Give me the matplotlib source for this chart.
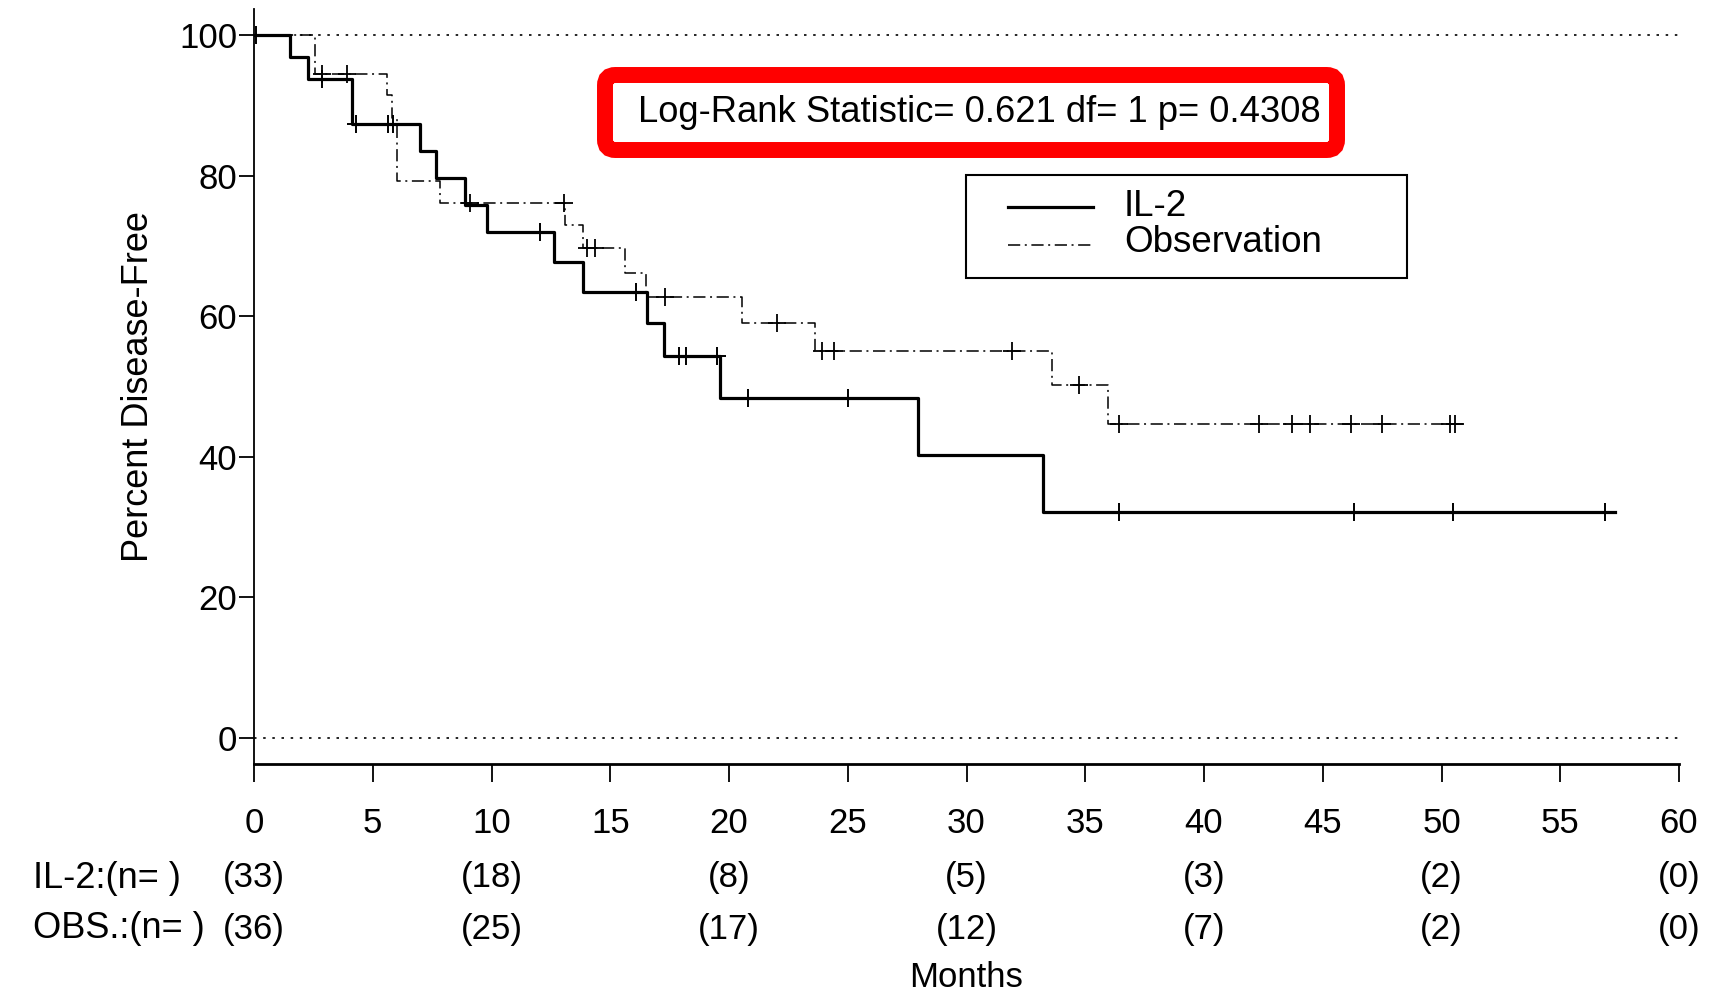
import numpy as np
import matplotlib
matplotlib.use("Agg")
import matplotlib.pyplot as plt
from matplotlib.patches import Rectangle, FancyBboxPatch
from matplotlib.lines import Line2D

plt.rcParams['font.family'] = ['Liberation Sans', 'DejaVu Sans']

# ---------------- data ----------------
il2_times = [0, 1.52, 2.29, 4.11, 7.0, 7.66, 8.88, 9.8, 12.65, 13.85, 16.53, 17.25, 19.6, 27.95, 33.2]
il2_surv = [100, 96.9, 93.8, 87.4, 83.5, 79.6, 75.8, 72.0, 67.7, 63.5, 59.0, 54.4, 48.3, 40.3, 32.2]
il2_end = 57.3
il2_censor = [0.1, 2.85, 4.3, 5.65, 5.85, 12.05, 16.1, 17.9, 18.2, 19.5, 20.8, 25.0, 36.4, 46.3, 50.5, 56.9]

obs_times = [0, 2.57, 5.6, 5.8, 6.02, 7.83, 13.1, 13.86, 15.6, 16.5, 20.55, 23.6, 33.6, 35.95]
obs_surv = [100, 94.4, 91.5, 88.2, 79.2, 76.1, 73.0, 69.7, 66.2, 62.8, 59.1, 55.1, 50.2, 44.6]
obs_end = 50.9
obs_censor = [2.88, 3.93, 9.1, 13.05, 14.0, 14.35, 17.3, 22.0, 23.9, 24.4, 31.9, 34.75,
              36.4, 42.3, 43.7, 44.45, 46.2, 47.5, 50.35, 50.55]

risk_times = [0, 10, 20, 30, 40, 50, 60]
il2_risk = [33, 18, 8, 5, 3, 2, 0]
obs_risk = [36, 25, 17, 12, 7, 2, 0]

x_ticks = list(range(0, 61, 5))
y_ticks = [0, 20, 40, 60, 80, 100]

stat_text = "Log-Rank Statistic= 0.621 df= 1 p= 0.4308"
# --------------------------------------

W, H = 1732, 993
fig = plt.figure(figsize=(W / 100, H / 100), dpi=100)


def fx(x):
    return x / W


def fy(y):
    return 1 - y / H


ax_left, ax_right, ax_top, ax_bot = 254, 1679, 9, 764
ax = fig.add_axes([fx(ax_left), fy(ax_bot), (ax_right - ax_left) / W, (ax_bot - ax_top) / H])

FS = 25


def surv_at(times, surv, t):
    idx = np.searchsorted(np.asarray(times), t, side='right') - 1
    return np.asarray(surv)[idx]


obs_dash = (0, (8, 3, 1.3, 3))

# reference dotted lines
ax.axhline(100, color='black', lw=1.2, ls=(0, (1.5, 4)), zorder=1)
ax.axhline(0, color='black', lw=1.2, ls=(0, (1.5, 4)), zorder=1)

# curves
ax.step(list(il2_times) + [il2_end], list(il2_surv) + [il2_surv[-1]], where='post',
        color='black', lw=2.3, zorder=3)
ax.step(list(obs_times) + [obs_end], list(obs_surv) + [obs_surv[-1]], where='post',
        color='black', lw=1.1, ls=obs_dash, zorder=3)

# censor marks
ax.plot(il2_censor, surv_at(il2_times, il2_surv, il2_censor), ls='none', marker='+',
        ms=13, mew=1.4, color='black', zorder=4)
ax.plot(obs_censor, surv_at(obs_times, obs_surv, obs_censor), ls='none', marker='+',
        ms=13, mew=1.3, color='black', zorder=4)

ax.set_xlim(0, 60)
ax.set_ylim(-3.7, 103.7)
ax.set_xticks(x_ticks)
ax.set_yticks(y_ticks)
ax.tick_params(axis='x', direction='out', length=13, width=1.3, pad=18, labelsize=FS)
ax.tick_params(axis='y', direction='out', length=11, width=1.3, pad=1, labelsize=FS)
for s in ['top', 'right']:
    ax.spines[s].set_visible(False)
ax.spines['left'].set_linewidth(1.3)
ax.spines['bottom'].set_linewidth(2.0)

ax.set_ylabel("Percent Disease-Free", fontsize=26, va='center')
ax.yaxis.set_label_coords((139 - ax_left) / (ax_right - ax_left), 0.5)
ax.set_xlabel("Months", fontsize=FS, va='top')
ax.xaxis.set_label_coords(0.5, (ax_bot - 961) / (ax_bot - ax_top))

# at-risk table
trans = ax.get_xaxis_transform()
row1 = (ax_bot - 878) / (ax_bot - ax_top)
row2 = (ax_bot - 929) / (ax_bot - ax_top)
for t, a, b in zip(risk_times, il2_risk, obs_risk):
    ax.text(t, row1, f"({a})", transform=trans, ha='center', va='center', fontsize=FS, clip_on=False)
    ax.text(t, row2, f"({b})", transform=trans, ha='center', va='center', fontsize=FS, clip_on=False)
fig.text(fx(33), fy(878), "IL-2:(n= )", ha='left', va='center', fontsize=26)
fig.text(fx(33), fy(929), "OBS.:(n= )", ha='left', va='center', fontsize=26)

# red statistic box
box = FancyBboxPatch((fx(605), fy(150)), (1337 - 605) / W, 75 / H,
                     boxstyle="round,pad=0,rounding_size=0.006", mutation_aspect=W / H,
                     transform=fig.transFigure, fc='white', ec='#ff0000', lw=11.5, zorder=5)
fig.patches.append(box)
fig.text(fx(979), fy(112), stat_text, ha='center', va='center', fontsize=26.2, zorder=6)

# legend
leg = Rectangle((fx(966), fy(278)), (1407 - 966) / W, (278 - 175) / H, transform=fig.transFigure,
                fc='white', ec='black', lw=1.5, zorder=5)
fig.patches.append(leg)
fig.lines.append(Line2D([fx(1008), fx(1093)], [fy(207), fy(207)], transform=fig.transFigure,
                        color='black', lw=2.3, zorder=6))
fig.lines.append(Line2D([fx(1008), fx(1093)], [fy(245), fy(245)], transform=fig.transFigure,
                        color='black', lw=1.1, ls=obs_dash, zorder=6))
fig.text(fx(1124), fy(207), "IL-2", ha='left', va='center', fontsize=26.5, zorder=6)
fig.text(fx(1124), fy(243), "Observation", ha='left', va='center', fontsize=26.5, zorder=6)

fig.savefig("out.png", dpi=100)
